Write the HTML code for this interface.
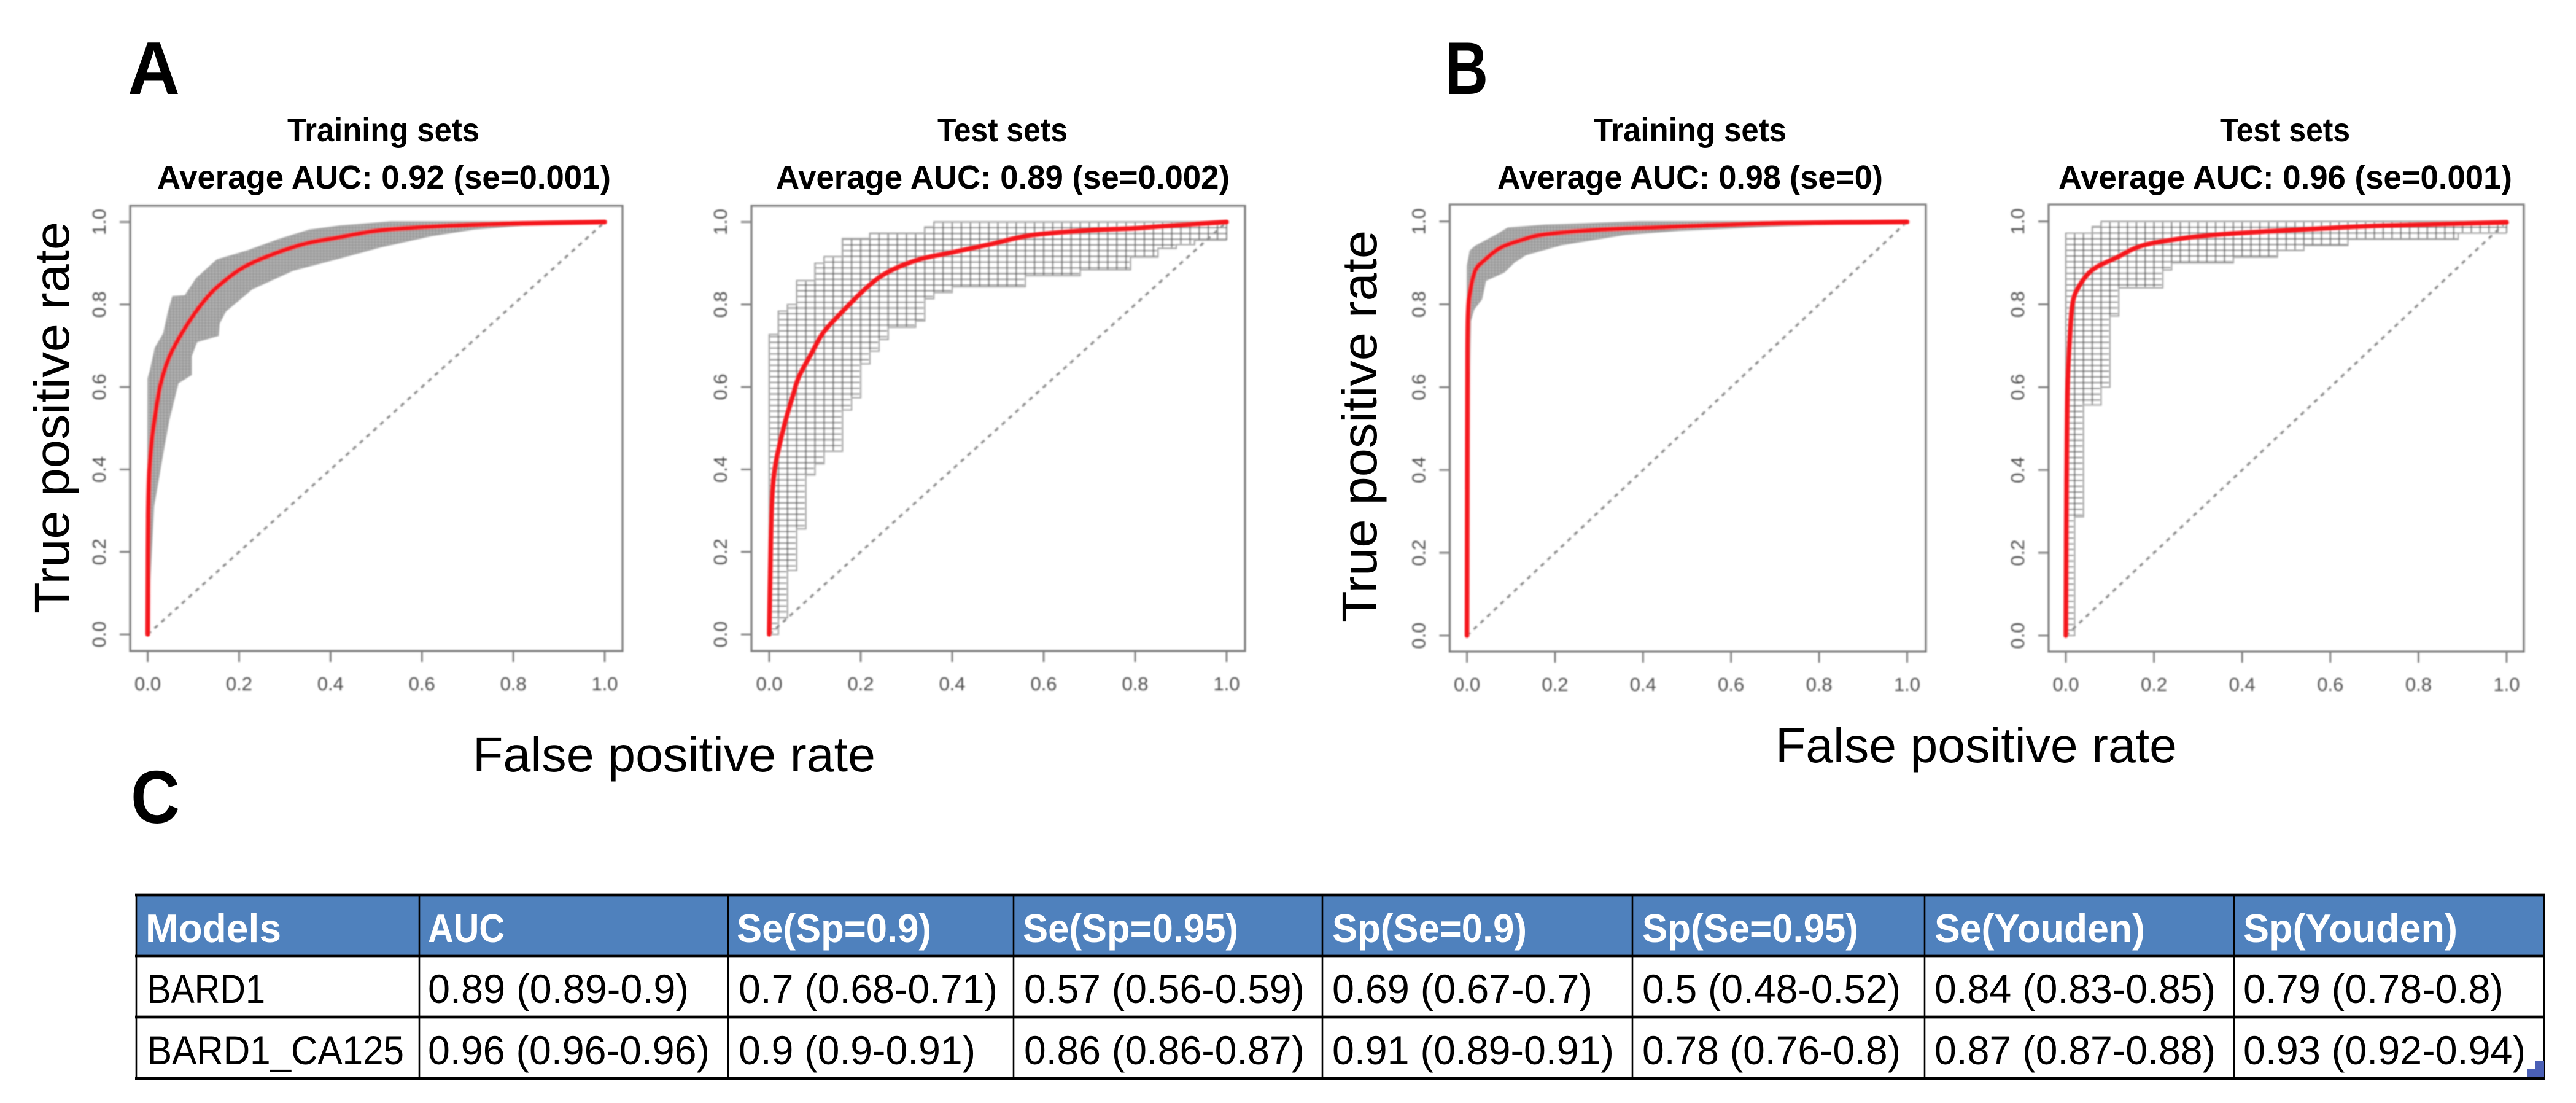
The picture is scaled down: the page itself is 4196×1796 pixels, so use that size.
<!DOCTYPE html>
<html lang="en">
<head>
<meta charset="utf-8">
<title>ROC curves for BARD1 and BARD1_CA125 models</title>
<style>
html,body{margin:0;padding:0;background:#fff;width:4196px;height:1796px;overflow:hidden}
svg{display:block;position:absolute;left:0;top:0}
text{font-family:"Liberation Sans",sans-serif}
.panel-letter{font-size:122px;font-weight:700;fill:#000}
.title{font-size:54px;font-weight:700;fill:#000}
.axis-title{font-size:80px;fill:#000}
.th{font-size:65px;font-weight:700;fill:#fff}
.td{font-size:66px;fill:#000}
</style>
</head>
<body>
<svg id="fig" width="4196" height="1796" viewBox="0 0 4196 1796" xmlns="http://www.w3.org/2000/svg">
  <defs>
    <filter id="soft" x="-5%" y="-5%" width="110%" height="110%"><feGaussianBlur stdDeviation="1"/></filter>
  </defs>
  <rect width="4196" height="1796" fill="#fff"/>

  <text class="panel-letter" x="208" y="153" textLength="85" lengthAdjust="spacingAndGlyphs">A</text>
  <text class="panel-letter" x="2354" y="153" textLength="70" lengthAdjust="spacingAndGlyphs">B</text>
  <text class="panel-letter" x="213" y="1340" textLength="80" lengthAdjust="spacingAndGlyphs">C</text>

  <text class="title" x="468" y="230" textLength="313" lengthAdjust="spacingAndGlyphs">Training sets</text>
  <text class="title" x="256" y="307" textLength="739" lengthAdjust="spacingAndGlyphs">Average AUC: 0.92 (se=0.001)</text>
  <text class="title" x="1527" y="230" textLength="212" lengthAdjust="spacingAndGlyphs">Test sets</text>
  <text class="title" x="1264" y="307" textLength="739" lengthAdjust="spacingAndGlyphs">Average AUC: 0.89 (se=0.002)</text>
  <text class="title" x="2596" y="230" textLength="314" lengthAdjust="spacingAndGlyphs">Training sets</text>
  <text class="title" x="2439" y="307" textLength="628" lengthAdjust="spacingAndGlyphs">Average AUC: 0.98 (se=0)</text>
  <text class="title" x="3616" y="230" textLength="212" lengthAdjust="spacingAndGlyphs">Test sets</text>
  <text class="title" x="3353" y="307" textLength="739" lengthAdjust="spacingAndGlyphs">Average AUC: 0.96 (se=0.001)</text>

  <text class="axis-title" transform="translate(112,999) rotate(-90)" textLength="638" lengthAdjust="spacingAndGlyphs">True positive rate</text>
  <text class="axis-title" transform="translate(2242,1013) rotate(-90)" textLength="638" lengthAdjust="spacingAndGlyphs">True positive rate</text>
  <text class="axis-title" x="770" y="1256" textLength="656" lengthAdjust="spacingAndGlyphs">False positive rate</text>
  <text class="axis-title" x="2892" y="1241" textLength="654" lengthAdjust="spacingAndGlyphs">False positive rate</text>

  <g id="plots"></g>

  <g>
    <rect x="222" y="1457" width="3922" height="100" fill="#4f81bd"/>
    <g stroke="#000" stroke-width="4.7">
      <line x1="220" x2="4146" y1="1457" y2="1457"/>
      <line x1="220" x2="4146" y1="1557" y2="1557"/>
      <line x1="220" x2="4146" y1="1656" y2="1656"/>
      <line x1="220" x2="4146" y1="1756" y2="1756"/>
    </g>
    <g stroke="#000" stroke-width="2.6">
      <line x1="222" x2="222" y1="1457" y2="1758"/>
      <line x1="683" x2="683" y1="1457" y2="1758"/>
      <line x1="1186" x2="1186" y1="1457" y2="1758"/>
      <line x1="1651" x2="1651" y1="1457" y2="1758"/>
      <line x1="2154" x2="2154" y1="1457" y2="1758"/>
      <line x1="2659" x2="2659" y1="1457" y2="1758"/>
      <line x1="3135" x2="3135" y1="1457" y2="1758"/>
      <line x1="3639" x2="3639" y1="1457" y2="1758"/>
      <line x1="4144" x2="4144" y1="1457" y2="1758"/>
    </g>

    <text class="th" x="237" y="1534" textLength="221" lengthAdjust="spacingAndGlyphs">Models</text>
    <text class="th" x="697" y="1534" textLength="125" lengthAdjust="spacingAndGlyphs">AUC</text>
    <text class="th" x="1200" y="1534" textLength="317" lengthAdjust="spacingAndGlyphs">Se(Sp=0.9)</text>
    <text class="th" x="1666" y="1534" textLength="351" lengthAdjust="spacingAndGlyphs">Se(Sp=0.95)</text>
    <text class="th" x="2170" y="1534" textLength="317" lengthAdjust="spacingAndGlyphs">Sp(Se=0.9)</text>
    <text class="th" x="2675" y="1534" textLength="352" lengthAdjust="spacingAndGlyphs">Sp(Se=0.95)</text>
    <text class="th" x="3151" y="1534" textLength="343" lengthAdjust="spacingAndGlyphs">Se(Youden)</text>
    <text class="th" x="3654" y="1534" textLength="349" lengthAdjust="spacingAndGlyphs">Sp(Youden)</text>

    <text class="td" x="240" y="1633" textLength="192" lengthAdjust="spacingAndGlyphs">BARD1</text>
    <text class="td" x="697" y="1633" textLength="425" lengthAdjust="spacingAndGlyphs">0.89 (0.89-0.9)</text>
    <text class="td" x="1203" y="1633" textLength="422" lengthAdjust="spacingAndGlyphs">0.7 (0.68-0.71)</text>
    <text class="td" x="1668" y="1633" textLength="457" lengthAdjust="spacingAndGlyphs">0.57 (0.56-0.59)</text>
    <text class="td" x="2170" y="1633" textLength="424" lengthAdjust="spacingAndGlyphs">0.69 (0.67-0.7)</text>
    <text class="td" x="2675" y="1633" textLength="421" lengthAdjust="spacingAndGlyphs">0.5 (0.48-0.52)</text>
    <text class="td" x="3151" y="1633" textLength="458" lengthAdjust="spacingAndGlyphs">0.84 (0.83-0.85)</text>
    <text class="td" x="3654" y="1633" textLength="424" lengthAdjust="spacingAndGlyphs">0.79 (0.78-0.8)</text>

    <text class="td" x="240" y="1733" textLength="418" lengthAdjust="spacingAndGlyphs">BARD1_CA125</text>
    <text class="td" x="697" y="1733" textLength="459" lengthAdjust="spacingAndGlyphs">0.96 (0.96-0.96)</text>
    <text class="td" x="1203" y="1733" textLength="386" lengthAdjust="spacingAndGlyphs">0.9 (0.9-0.91)</text>
    <text class="td" x="1668" y="1733" textLength="457" lengthAdjust="spacingAndGlyphs">0.86 (0.86-0.87)</text>
    <text class="td" x="2170" y="1733" textLength="459" lengthAdjust="spacingAndGlyphs">0.91 (0.89-0.91)</text>
    <text class="td" x="2675" y="1733" textLength="421" lengthAdjust="spacingAndGlyphs">0.78 (0.76-0.8)</text>
    <text class="td" x="3151" y="1733" textLength="458" lengthAdjust="spacingAndGlyphs">0.87 (0.87-0.88)</text>
    <text class="td" x="3654" y="1733" textLength="460" lengthAdjust="spacingAndGlyphs">0.93 (0.92-0.94)</text>

    <path d="M4116 1741H4130V1728H4144V1754H4116Z" fill="#4a5fb5"/>
  </g>
</svg>

<script>
// ---- chart data ----
const xTickValues = [0, 0.2, 0.4, 0.6, 0.8, 1];
const yTickValues = [0, 0.2, 0.4, 0.6, 0.8, 1];
const tickLabels = ['0.0', '0.2', '0.4', '0.6', '0.8', '1.0'];

const aTrainMeanFpr = [0, 0.0005, 0.0014, 0.004, 0.009, 0.017, 0.028, 0.048, 0.08, 0.12, 0.16, 0.223, 0.33, 0.42, 0.51, 0.644, 0.8, 1];
const aTrainMeanTpr = [0, 0.12, 0.29, 0.40, 0.47, 0.536, 0.606, 0.675, 0.74, 0.804, 0.85, 0.898, 0.943, 0.963, 0.98, 0.99, 0.996, 1];
const aTrainUpperFpr = [0, 0.001, 0.006, 0.017, 0.035, 0.046, 0.055, 0.082, 0.107, 0.152, 0.219, 0.286, 0.353, 0.42, 0.532, 1];
const aTrainUpperTpr = [0.15, 0.62, 0.64, 0.695, 0.729, 0.784, 0.819, 0.821, 0.863, 0.908, 0.93, 0.957, 0.98, 0.99, 1, 1];
const aTrainLowerFpr = [0, 0.004, 0.0126, 0.033, 0.046, 0.066, 0.095, 0.095, 0.107, 0.154, 0.156, 0.17, 0.228, 0.317, 0.42, 0.51, 0.62, 0.713, 0.85, 1];
const aTrainLowerTpr = [0, 0.12, 0.31, 0.441, 0.52, 0.61, 0.63, 0.675, 0.71, 0.725, 0.754, 0.784, 0.838, 0.883, 0.913, 0.94, 0.967, 0.983, 0.995, 1];

const aTestMeanFpr = [0, 0.002, 0.0056, 0.012, 0.023, 0.036, 0.052, 0.065, 0.094, 0.117, 0.153, 0.215, 0.26, 0.327, 0.394, 0.483, 0.573, 0.7, 0.8, 0.9, 1];
const aTestMeanTpr = [0, 0.14, 0.317, 0.40, 0.462, 0.52, 0.58, 0.625, 0.685, 0.73, 0.775, 0.843, 0.879, 0.909, 0.925, 0.946, 0.968, 0.98, 0.985, 0.993, 1];
const aTestUpperFpr = [0, 0.02, 0.04, 0.06, 0.10, 0.12, 0.16, 0.22, 0.34, 0.36];
const aTestUpperTpr = [0.727, 0.784, 0.80, 0.858, 0.90, 0.916, 0.96, 0.973, 0.988, 1];
const aTestLowerFpr = [0, 0.02, 0.04, 0.06, 0.08, 0.10, 0.12, 0.16, 0.18, 0.20, 0.22, 0.24, 0.26, 0.32, 0.34, 0.36, 0.40, 0.56, 0.68, 0.79, 0.85, 0.89, 0.93];
const aTestLowerTpr = [0, 0.04, 0.155, 0.256, 0.387, 0.414, 0.444, 0.544, 0.574, 0.656, 0.687, 0.715, 0.745, 0.76, 0.814, 0.829, 0.843, 0.87, 0.884, 0.915, 0.936, 0.945, 0.956];

const bTrainMeanFpr = [0, 0.0006, 0.0015, 0.003, 0.0075, 0.019, 0.038, 0.075, 0.126, 0.177, 0.298, 0.438, 0.53, 0.714, 1];
const bTrainMeanTpr = [0, 0.30, 0.685, 0.784, 0.833, 0.882, 0.905, 0.936, 0.956, 0.969, 0.98, 0.986, 0.99, 0.996, 0.999];
const bTrainUpperFpr = [0, 0.001, 0.0075, 0.019, 0.07, 0.093, 0.177, 0.39, 1];
const bTrainUpperTpr = [0.6, 0.893, 0.929, 0.94, 0.969, 0.984, 0.991, 0.999, 1];
const bTrainLowerFpr = [0, 0.002, 0.0075, 0.015, 0.033, 0.042, 0.084, 0.107, 0.133, 0.214, 0.358, 0.484, 0.714, 1];
const bTrainLowerTpr = [0, 0.45, 0.76, 0.788, 0.813, 0.858, 0.878, 0.902, 0.92, 0.944, 0.969, 0.979, 0.99, 1];

const bTestMeanFpr = [0, 0.001, 0.002, 0.004, 0.009, 0.015, 0.028, 0.06, 0.117, 0.174, 0.269, 0.364, 0.525, 0.714, 1];
const bTestMeanTpr = [0, 0.25, 0.43, 0.61, 0.72, 0.80, 0.84, 0.883, 0.914, 0.942, 0.96, 0.97, 0.98, 0.99, 0.998];
const bTestUpperFpr = [0, 0.06, 0.08];
const bTestUpperTpr = [0.972, 0.988, 1];
const bTestLowerFpr = [0, 0.02, 0.04, 0.08, 0.10, 0.12, 0.22, 0.24, 0.38, 0.48, 0.54, 0.64, 0.89];
const bTestLowerTpr = [0, 0.287, 0.557, 0.60, 0.772, 0.84, 0.883, 0.90, 0.914, 0.93, 0.942, 0.957, 0.972];

const testGridFprStep = [0.02];
const testGridTprStep = [0.0139];
const trainGridFprStep = [0.007];
const trainGridTprStep = [0.007];

// ---- layout (pixels), kept apart from the data ----
const panels = [
  {id:'a-train', left:212, right:1014, top:335, bottom:1060, x0:240.6, x1:985, y0:1033, y1:361.5,
   meanFpr:aTrainMeanFpr, meanTpr:aTrainMeanTpr, upFpr:aTrainUpperFpr, upTpr:aTrainUpperTpr, loFpr:aTrainLowerFpr, loTpr:aTrainLowerTpr,
   fStep:trainGridFprStep, tStep:trainGridTprStep, dense:true},
  {id:'a-test', left:1224, right:2028, top:335, bottom:1060, x0:1253, x1:1998, y0:1033, y1:361.5,
   meanFpr:aTestMeanFpr, meanTpr:aTestMeanTpr, upFpr:aTestUpperFpr, upTpr:aTestUpperTpr, loFpr:aTestLowerFpr, loTpr:aTestLowerTpr,
   fStep:testGridFprStep, tStep:testGridTprStep, dense:false},
  {id:'b-train', left:2361.5, right:3137, top:333, bottom:1061, x0:2389.6, x1:3106.5, y0:1035, y1:360.7,
   meanFpr:bTrainMeanFpr, meanTpr:bTrainMeanTpr, upFpr:bTrainUpperFpr, upTpr:bTrainUpperTpr, loFpr:bTrainLowerFpr, loTpr:bTrainLowerTpr,
   fStep:trainGridFprStep, tStep:trainGridTprStep, dense:true},
  {id:'b-test', left:3337, right:4111, top:333, bottom:1061, x0:3365, x1:4083, y0:1035, y1:360.7,
   meanFpr:bTestMeanFpr, meanTpr:bTestMeanTpr, upFpr:bTestUpperFpr, upTpr:bTestUpperTpr, loFpr:bTestLowerFpr, loTpr:bTestLowerTpr,
   fStep:testGridFprStep, tStep:testGridTprStep, dense:false}
];

const SVG_NS = 'http://www.w3.org/2000/svg';
const root = document.getElementById('plots');

function make(tag, parent, attrs) {
  const el = document.createElementNS(SVG_NS, tag);
  for (const k in attrs) el.setAttribute(k, attrs[k]);
  parent.appendChild(el);
  return el;
}
function stepValue(fprs, tprs, x) {
  let v = tprs[0];
  for (let i = 0; i < fprs.length; i++) if (fprs[i] <= x + 1e-9) v = tprs[i];
  return v;
}
function lineValue(fprs, tprs, x) {
  if (x <= fprs[0]) return tprs[0];
  for (let i = 1; i < fprs.length; i++) {
    if (x <= fprs[i]) {
      const span = fprs[i] - fprs[i - 1];
      if (span <= 0) return tprs[i];
      return tprs[i - 1] + (tprs[i] - tprs[i - 1]) * (x - fprs[i - 1]) / span;
    }
  }
  return tprs[tprs.length - 1];
}
function clampTo(v, a, b) {
  return Math.min(Math.max(a, b), Math.max(Math.min(a, b), v));
}
function smoothPath(pts) {
  let d = 'M' + pts[0][0] + ' ' + pts[0][1];
  for (let i = 0; i < pts.length - 1; i++) {
    const p0 = pts[Math.max(0, i - 1)], p1 = pts[i], p2 = pts[i + 1], p3 = pts[Math.min(pts.length - 1, i + 2)];
    const c1x = clampTo(p1[0] + (p2[0] - p0[0]) / 6, p1[0], p2[0]);
    const c1y = clampTo(p1[1] + (p2[1] - p0[1]) / 6, p1[1], p2[1]);
    const c2x = clampTo(p2[0] - (p3[0] - p1[0]) / 6, p1[0], p2[0]);
    const c2y = clampTo(p2[1] - (p3[1] - p1[1]) / 6, p1[1], p2[1]);
    d += 'C' + c1x + ' ' + c1y + ' ' + c2x + ' ' + c2y + ' ' + p2[0] + ' ' + p2[1];
  }
  return d;
}

panels.forEach(function (p) {
  const sx = function (f) { return p.x0 + (p.x1 - p.x0) * f; };
  const sy = function (t) { return p.y0 + (p.y1 - p.y0) * t; };
  const pick = p.dense ? lineValue : stepValue;
  const upper = function (f) { return pick(p.upFpr, p.upTpr, f); };
  const lower = function (f) { return pick(p.loFpr, p.loTpr, f); };

  const g = make('g', root, {filter: 'url(#soft)'});
  
  

  // outlines of the spread of resampled curves
  const outline = function (fprs, tprs) {
    let d = 'M' + sx(0) + ' ' + sy(0);
    if (p.dense) {
      for (let i = 0; i < fprs.length; i++) d += 'L' + sx(fprs[i]) + ' ' + sy(tprs[i]);
      return d;
    }
    d += 'V' + sy(tprs[0]);
    for (let i = 1; i < fprs.length; i++) d += 'H' + sx(fprs[i]) + 'V' + sy(tprs[i]);
    return d + 'H' + sx(1);
  };

  // solid band for the dense training curves
  if (p.dense) {
    const upperPts = p.upFpr.map(function (f, i) { return sx(f) + ',' + sy(p.upTpr[i]); });
    const lowerPts = p.loFpr.map(function (f, i) { return sx(f) + ',' + sy(p.loTpr[i]); }).reverse();
    const band = make('polygon', g, {points: [sx(0) + ',' + sy(0)].concat(upperPts, lowerPts).join(' '), fill: '#b2b2b2', stroke: 'none'});
    
    
  }

  // lattice formed by the overlapping step curves
  let dV = '', dH = '';
  const fStep = p.fStep[0], tStep = p.tStep[0];
  for (let k = 0; k * fStep <= 1.0001; k++) {
    const f = k * fStep;
    const lo = lower(f), hi = upper(f);
    if (hi > lo) dV += 'M' + sx(f) + ' ' + sy(lo) + 'V' + sy(hi);
  }
  for (let j = 0; 1 - j * tStep >= 0; j++) {
    const t = 1 - j * tStep;
    let leftF = null, rightF = null;
    for (let s = 0; s <= 500; s++) {
      const f = s / 500;
      if (leftF === null && upper(f) >= t) leftF = f;
      if (lower(f) <= t) rightF = f;
    }
    if (leftF !== null && rightF !== null && rightF > leftF) dH += 'M' + sx(leftF) + ' ' + sy(t) + 'H' + sx(rightF);
  }
  const latticeStroke = p.dense ? 'rgba(120,120,120,0.4)' : 'rgba(85,85,85,0.62)';
  const latticeWidth = p.dense ? 1.6 : 2.4;
  const vLines = make('path', g, {d: dV, fill: 'none', stroke: latticeStroke, 'stroke-width': latticeWidth});
  
  
  const hLines = make('path', g, {d: dH, fill: 'none', stroke: latticeStroke, 'stroke-width': latticeWidth * 0.9});
  
  

  const upOutline = make('path', g, {d: outline(p.upFpr, p.upTpr), fill: 'none', stroke: '#a6a6a6', 'stroke-width': 2.2});
  
  
  const loOutline = make('path', g, {d: outline(p.loFpr, p.loTpr), fill: 'none', stroke: '#a6a6a6', 'stroke-width': 2.2});
  
  

  // chance diagonal
  const diag = make('line', g, {x1: sx(0), y1: sy(0), x2: sx(1), y2: sy(1), stroke: '#8a8a8a', 'stroke-width': 3.4, 'stroke-dasharray': '7 8'});
  
  

  // mean ROC curve
  const meanPts = p.meanFpr.map(function (f, i) { return [sx(f), sy(p.meanTpr[i])]; });
  const mean = make('path', g, {d: smoothPath(meanPts), fill: 'none', stroke: '#f5141a', 'stroke-width': 7.5, 'stroke-linejoin': 'round', 'stroke-linecap': 'round'});
  
  

  // frame
  const frame = make('rect', g, {x: p.left, y: p.top, width: p.right - p.left, height: p.bottom - p.top, fill: 'none', stroke: '#7c7c7c', 'stroke-width': 3.2});
  
  

  // x axis
  xTickValues.forEach(function (v, i) {
    const tick = make('line', g, {x1: sx(v), x2: sx(v), y1: p.bottom, y2: p.bottom + 18, stroke: '#7c7c7c', 'stroke-width': 2.8});
    
    
    const lab = make('text', g, {x: sx(v), y: p.bottom + 64, 'text-anchor': 'middle', 'font-size': 31, fill: '#4f4f4f'});
    lab.textContent = tickLabels[i];
    
    
  });
  // y axis
  yTickValues.forEach(function (v, i) {
    const tick = make('line', g, {x1: p.left - 17, x2: p.left, y1: sy(v), y2: sy(v), stroke: '#7c7c7c', 'stroke-width': 2.8});
    
    
    const lab = make('text', g, {transform: 'translate(' + (p.left - 40) + ',' + sy(v) + ') rotate(-90)', 'text-anchor': 'middle', 'font-size': 31, fill: '#4f4f4f'});
    lab.textContent = tickLabels[i];
    
    
  });
});
</script>
</body>
</html>
